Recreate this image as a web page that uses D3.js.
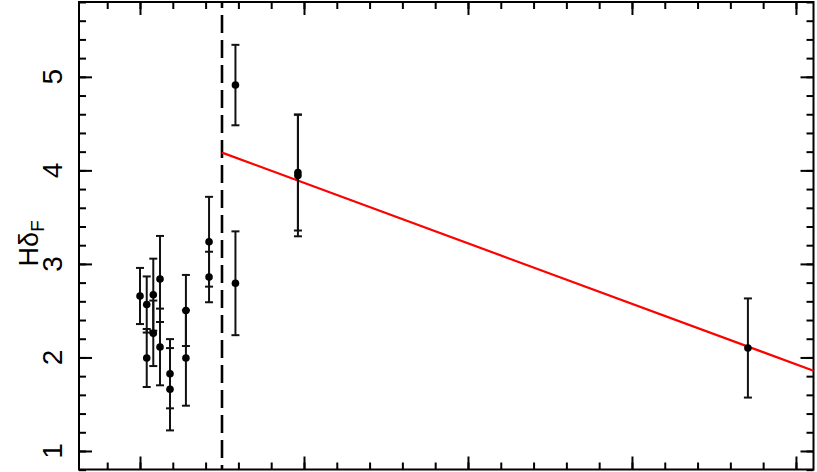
<!DOCTYPE html>
<html><head><meta charset="utf-8">
<script src="https://cdn.jsdelivr.net/npm/d3@7"></script>
<style>body{margin:0;background:#fff}svg{display:block}text{font-family:"Liberation Sans",Arial,sans-serif}</style>
</head><body>
<svg id="c" width="817" height="472"></svg>
<script>
// data
const xs   = [1.000,1.041,1.041,1.081,1.081,1.122,1.122,1.183,1.183,1.280,1.280,1.421,1.421,1.582,1.582,1.963,1.963,4.707];
const ys   = [2.657,2.566,1.994,2.671,2.258,2.839,2.112,1.826,1.660,2.502,1.994,3.237,2.860,2.793,4.912,3.977,3.945,2.101];
const errs = [0.30,0.30,0.31,0.385,0.35,0.46,0.41,0.37,0.44,0.38,0.51,0.48,0.27,0.555,0.43,0.62,0.65,0.53];
const fitX = [1.5, 5.107];
const fitY = [4.19, 1.858];
const cutX = 1.5;
const yMajor = [1,2,3,4,5];
const xMajor = [1,2,3,4,5];
const yLabel = "Hδ";
const yLabelSub = "F";

const svg = d3.select("#c");
const L=79, R=813.5, T=2, B=469.5;
const x = d3.scaleLinear().domain([0.628,5.107]).range([L,R]);
const y = d3.scaleLinear().domain([0.802,5.80]).range([B,T]);

const xMinor = d3.range(0.8,5.01,0.2).map(v=>+v.toFixed(2));
const yMinor = d3.range(0.8,5.81,0.2).map(v=>+v.toFixed(2));

function ax(g, axisFn, scale, vals, size){
  g.call(axisFn(scale).tickValues(vals).tickSizeInner(-size).tickSizeOuter(0).tickFormat(""));
  g.select(".domain").remove();
  g.selectAll(".tick line").attr("stroke","#000").attr("stroke-width",2);
}
// ticks on four sides
[[d3.axisBottom,`translate(0,${B})`,x,xMajor,13],[d3.axisBottom,`translate(0,${B})`,x,xMinor,7],
 [d3.axisTop,`translate(0,${T})`,x,xMajor,13],[d3.axisTop,`translate(0,${T})`,x,xMinor,7],
 [d3.axisLeft,`translate(${L},0)`,y,yMajor,13],[d3.axisLeft,`translate(${L},0)`,y,yMinor,7],
 [d3.axisRight,`translate(${R},0)`,y,yMajor,13],[d3.axisRight,`translate(${R},0)`,y,yMinor,7]
].forEach(([f,t,s,v,sz])=>ax(svg.append("g").attr("transform",t),f,s,v,sz));

svg.append("rect").attr("x",L).attr("y",T).attr("width",R-L).attr("height",B-T)
  .attr("fill","none").attr("stroke","#000").attr("stroke-width",2);

// y tick labels rotated
svg.append("g").selectAll("text").data(yMajor).join("text")
  .attr("transform",d=>`translate(62,${y(d)}) rotate(-90)`)
  .attr("text-anchor","middle").attr("font-size",28).attr("fill","#000").text(d=>d);

// y label
const lab = svg.append("text").attr("transform",`translate(38,${y(3.22)}) rotate(-90)`)
  .attr("text-anchor","middle").attr("font-size",27).attr("fill","#000");
lab.append("tspan").text(yLabel);
lab.append("tspan").attr("font-size",19).attr("dy",6).text(yLabelSub);

// dashed cut line
svg.append("line").attr("x1",x(cutX)).attr("x2",x(cutX)).attr("y1",T).attr("y2",B)
  .attr("stroke","#000").attr("stroke-width",2.6).attr("stroke-dasharray","18,7").attr("stroke-dashoffset",12);

// fit line
svg.append("line").attr("x1",x(fitX[0])).attr("y1",y(fitY[0])).attr("x2",x(fitX[1])).attr("y2",y(fitY[1]))
  .attr("stroke","#ff0000").attr("stroke-width",2.2);

// error bars
const data = xs.map((v,i)=>({x:v,y:ys[i],e:errs[i]}));
const eb = svg.append("g").attr("stroke","#111").attr("stroke-width",2);
data.forEach(d=>{
  const cx=x(d.x), y0=y(d.y-d.e), y1=y(d.y+d.e);
  eb.append("line").attr("x1",cx).attr("x2",cx).attr("y1",y0).attr("y2",y1);
  eb.append("line").attr("x1",cx-4).attr("x2",cx+4).attr("y1",y0).attr("y2",y0);
  eb.append("line").attr("x1",cx-4).attr("x2",cx+4).attr("y1",y1).attr("y2",y1);
});
svg.append("g").selectAll("circle").data(data).join("circle")
  .attr("cx",d=>x(d.x)).attr("cy",d=>y(d.y)).attr("r",3.8).attr("fill","#000");
</script>
</body></html>
